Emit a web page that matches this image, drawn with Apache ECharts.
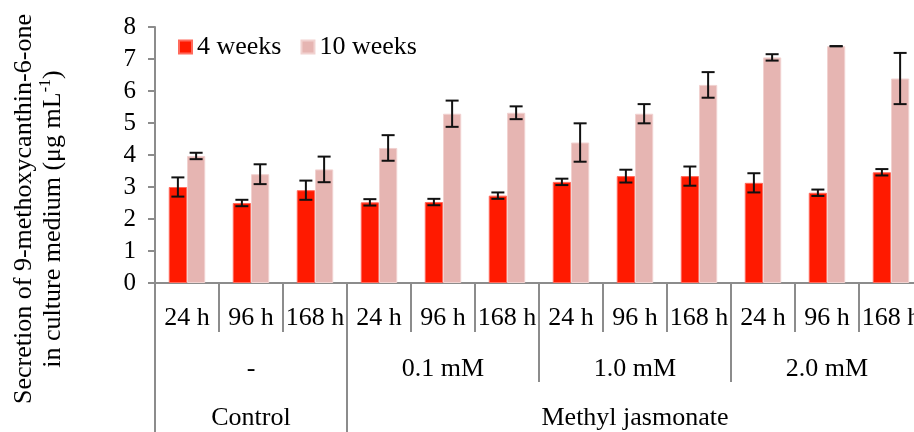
<!DOCTYPE html>
<html>
<head>
<meta charset="utf-8">
<script src="https://cdn.jsdelivr.net/npm/echarts@6/dist/echarts.min.js"></script>
<style>html,body{margin:0;padding:0;background:#fff;}#c{width:914px;height:432px;}</style>
</head>
<body>
<div id="c"></div>
<script>
var timeLabels = ['24 h','96 h','168 h','24 h','96 h','168 h','24 h','96 h','168 h','24 h','96 h','168 h'];
var concLabels = ['-','0.1 mM','1.0 mM','2.0 mM'];
var groupLabels = ['Control','','Methyl jasmonate',''];
var seriesNames = ['4 weeks','10 weeks'];
var fourWeeks = [3.0, 2.5, 2.9, 2.52, 2.53, 2.73, 3.16, 3.34, 3.34, 3.13, 2.82, 3.46];
var fourErr   = [0.3, 0.1, 0.3, 0.1, 0.1, 0.1, 0.1, 0.2, 0.3, 0.3, 0.1, 0.1];
var tenWeeks  = [3.97, 3.40, 3.55, 4.22, 5.29, 5.32, 4.39, 5.29, 6.19, 7.05, 7.40, 6.39];
var tenErr    = [0.1, 0.31, 0.4, 0.4, 0.41, 0.2, 0.6, 0.3, 0.4, 0.1, 0.0, 0.8];
var yTicks = [0,1,2,3,4,5,6,7,8];

var FONT = "'Liberation Serif','Times New Roman',serif";
var AX = '#8c8c8c';

function errData(vals, errs){
  return vals.map(function(v,i){ return [i, v, errs[i]]; });
}
function errRender(offsetFrac){
  return function(params, api){
    var i = api.value(0), v = api.value(1), e = api.value(2);
    var band = api.size([1,0])[0];
    var c = api.coord([i, v]);
    var x = c[0] + offsetFrac*band;
    var yt = api.coord([i, v+e])[1];
    var yb = api.coord([i, v-e])[1];
    var hw = 6.5;
    var st = {stroke:'#111', lineWidth:2};
    return {type:'group', children:[
      {type:'line', shape:{x1:x,y1:yt,x2:x,y2:yb}, style:st},
      {type:'line', shape:{x1:x-hw,y1:yt,x2:x+hw,y2:yt}, style:st},
      {type:'line', shape:{x1:x-hw,y1:yb,x2:x+hw,y2:yb}, style:st}
    ]};
  };
}

var chart = echarts.init(document.getElementById('c'));
chart.setOption({
  animation:false,
  textStyle:{fontFamily:FONT},
  legend:{
    data:seriesNames, left:178, top:34, icon:'rect', itemWidth:13, itemHeight:13, itemGap:19,
    padding:0,
    textStyle:{fontFamily:FONT, fontSize:26, color:'#000'}
  },
  grid:{left:155, top:27, width:768, height:256, containLabel:false, outerBoundsMode:'none'},
  xAxis:[
    {type:'category', data:timeLabels, position:'bottom',
     axisLine:{lineStyle:{color:AX,width:2}},
     axisTick:{show:true, interval:0, length:49, lineStyle:{color:AX,width:2}},
     axisLabel:{interval:0, margin:22, fontFamily:FONT, fontSize:26, color:'#000'}},
    {type:'category', data:concLabels, position:'bottom',
     axisLine:{show:false},
     axisTick:{show:true, interval:0, length:99, lineStyle:{color:AX,width:2}},
     axisLabel:{interval:0, margin:73, fontFamily:FONT, fontSize:26, color:'#000'}},
    {type:'category', data:groupLabels, position:'bottom',
     axisLine:{show:false},
     axisTick:{show:true, length:160, interval:function(i){return i===0||i===1;}, lineStyle:{color:AX,width:2}},
     axisLabel:{interval:0, margin:122, fontFamily:FONT, fontSize:26, color:'#000'}}
  ],
  yAxis:{
    type:'value', min:0, max:8, interval:1,
    axisLine:{show:true, lineStyle:{color:AX,width:2}},
    axisTick:{show:true, length:7, lineStyle:{color:AX,width:2}},
    splitLine:{show:false},
    axisLabel:{margin:19, fontFamily:FONT, fontSize:25, color:'#000',
      formatter:function(v){ return yTicks.indexOf(v)>=0 ? String(v) : ''; }}
  },
  graphic:[
    {type:'text', x:24, y:209, rotation:Math.PI/2,
     style:{text:'Secretion of 9-methoxycanthin-6-one', font:'26px '+FONT, fill:'#000', align:'center', verticalAlign:'middle'}},
    {type:'text', x:52, y:219, rotation:Math.PI/2,
     style:{text:'{n|in culture medium (μg mL}{s|-1}{n|)}', fill:'#000', align:'center', verticalAlign:'middle',
       rich:{n:{fontFamily:FONT, fontSize:26, lineHeight:28, verticalAlign:'bottom'},
             s:{fontFamily:FONT, fontSize:16, lineHeight:28, verticalAlign:'top'}}}}
  ],
  series:[
    {name:seriesNames[0], type:'bar', data:fourWeeks, barGap:0, barCategoryGap:'43%',
     itemStyle:{color:'#ff1a00', borderColor:'#ff6a5c', borderWidth:1}},
    {name:seriesNames[1], type:'bar', data:tenWeeks, barGap:0, barCategoryGap:'43%',
     itemStyle:{color:'#e6b5b2', borderColor:'#f1d2d0', borderWidth:1}},
    {name:'err4', type:'custom', data:errData(fourWeeks, fourErr), renderItem:errRender(-0.1425), z:5},
    {name:'err10', type:'custom', data:errData(tenWeeks, tenErr), renderItem:errRender(0.1425), z:5}
  ]
});
</script>
</body>
</html>
